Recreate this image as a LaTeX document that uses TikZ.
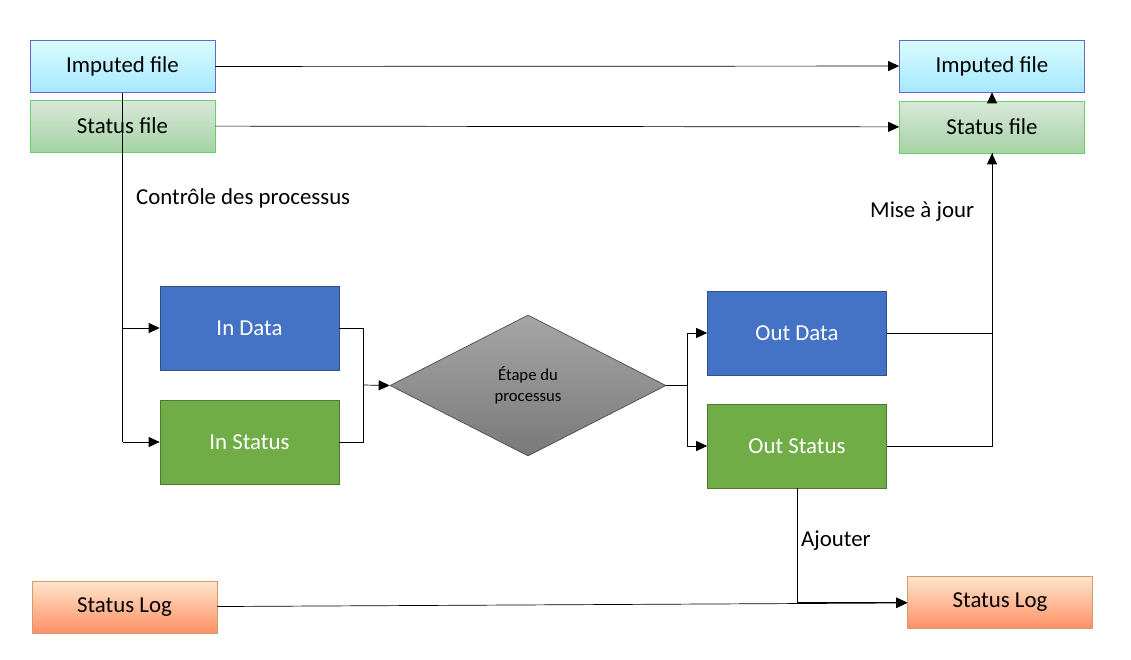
\documentclass[tikz,border=0pt]{standalone}
\usepackage{fontspec}
\setmainfont{Carlito}
\usetikzlibrary{
		positioning,
		arrows.meta,
		shapes.geometric
	}
\tikzset{
		>={Triangle[length=2.2mm,width=2mm]}
	}
\definecolor{DataBlue}{HTML}{4472C4}
\definecolor{StatusGreen}{HTML}{70AD47}

\begin{document}
\begin{tikzpicture}[x=0.02cm, y=-0.02cm,
				file/.style={draw=#1!70!black!60, minimum width=3.7cm, minimum height=1.04cm, font=\fontsize{13}{15}\selectfont},
				bluefile/.style={file=blue, top color=blue!10!cyan!15, bottom color=blue!25!cyan!35},
				greenfile/.style={file=green, top color=green!40!black!15!white, bottom color=green!50!black!35!white},
				logfile/.style={file=orange, top color=orange!20, bottom color=orange!55!red!60},
				step/.style={draw=#1!70!black, fill=#1, text=white, minimum width=3.58cm, minimum height=1.68cm, font=\fontsize{13}{15}\selectfont},
				label/.style={font=\fontsize{13}{15}\selectfont, anchor=west}]
	\useasboundingbox (0,0) rectangle (1131,659);
	% input files
	\node[bluefile] (imp1) at (122.5,66.5) {Imputed file};
	\node[greenfile] (stat1) at (122.5,126) {Status file};
	\node[logfile] (log1) at (124.5,607) {Status Log};
	% output files
	\node[bluefile] (imp2) at (992,66) {Imputed file};
	\node[greenfile] (stat2) at (992,127) {Status file};
	\node[logfile] (log2) at (1000,602.5) {Status Log};
	% process
	\node[step=DataBlue] (indata) at (249.5,328) {In Data};
	\node[step=StatusGreen] (instat) at (249.5,442) {In Status};
	\node[diamond, aspect=1.96, minimum width=5.52cm, minimum height=2.82cm, inner sep=0pt,
		draw=black!70, top color=gray!70, bottom color=gray!95!black, font=\fontsize{9.5}{12}\selectfont, align=center]
		(etape) at (528,385.5) {Étape du\\processus};
	\node[step=DataBlue] (outdata) at (797,333) {Out Data};
	\node[step=StatusGreen] (outstat) at (797,446) {Out Status};
	% labels
	\node[label] at (130,198) {Contrôle des processus};
	\node[label] at (864,212) {Mise à jour};
	\node[label] at (795,541) {Ajouter};
	% connectors
	\draw[->] (imp1) -- (imp2);
	\draw[->] (stat1) -- (stat2);
	\draw[->] (log1) -- (log2);
	\draw (imp1.south) -- (122.5,442) coordinate (ctl);
	\draw[->] (ctl |- indata) -- (indata);
	\draw[->] (ctl) -- (instat);
	\draw (indata.east) -| (363,385) coordinate (join);
	\draw (instat.east) -| (join);
	\draw[->] (join) -- (etape.west);
	\draw (etape.east) -- (687,385.5) coordinate (split);
	\draw[->] (split) |- (outdata);
	\draw[->] (split) |- (outstat);
	\draw (outdata.east) -| (stat2.south) coordinate (upd);
	\draw[->] (outstat.east) -| (upd);
	\draw[->] (stat2) -- (imp2);
	\draw[->] (outstat.south) |- (log2.west);
\end{tikzpicture}
\end{document}
